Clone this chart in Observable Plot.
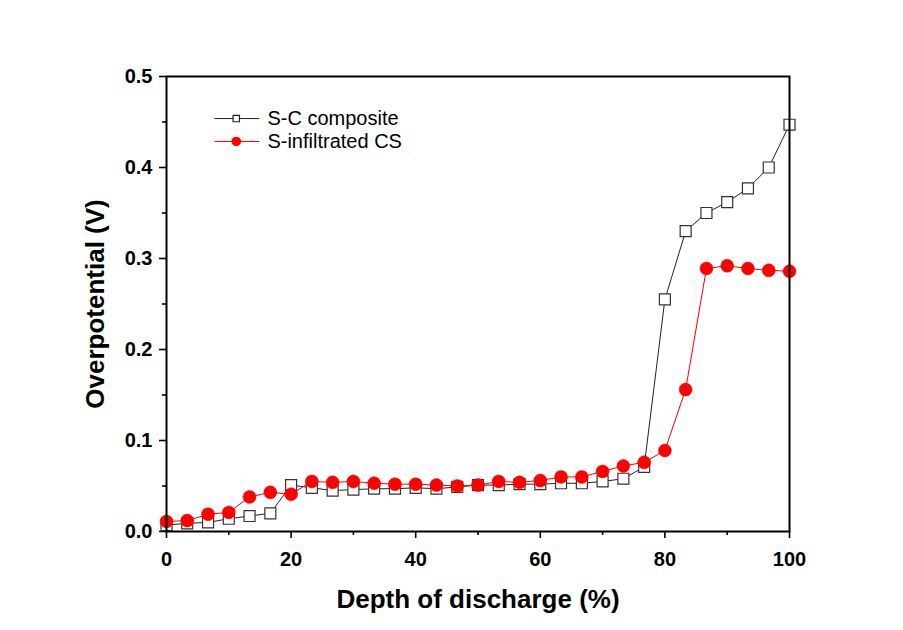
<!DOCTYPE html>
<html><head><meta charset="utf-8">
<script src="https://cdn.jsdelivr.net/npm/d3@7"></script>
<script src="https://cdn.jsdelivr.net/npm/@observablehq/plot@0.6"></script>
<style>body{margin:0;background:#fff;font-family:"Liberation Sans",Arial,sans-serif}</style>
</head><body><div id="chart"></div>
<script>
const depth = [0,3.33,6.67,10,13.33,16.67,20,23.33,26.67,30,33.33,36.67,40,43.33,46.67,50,53.33,56.67,60,63.33,66.67,70,73.33,76.67,80,83.33,86.67,90,93.33,96.67,100];
const scComposite = [0.007,0.009,0.010,0.014,0.017,0.020,0.051,0.048,0.045,0.046,0.047,0.047,0.048,0.047,0.049,0.051,0.051,0.052,0.052,0.053,0.053,0.055,0.058,0.071,0.255,0.330,0.350,0.362,0.377,0.400,0.447];
const sInfiltrated = [0.011,0.012,0.019,0.021,0.038,0.043,0.041,0.055,0.054,0.055,0.053,0.052,0.052,0.051,0.050,0.051,0.055,0.054,0.056,0.060,0.060,0.066,0.072,0.076,0.089,0.156,0.289,0.292,0.289,0.287,0.286];
const seriesNames = ["S-C composite","S-infiltrated CS"];
const xTicks = [0,20,40,60,80,100];
const xMinor = [10,30,50,70,90];
const yTicks = [0,0.1,0.2,0.3,0.4,0.5];
const yMinor = [0.05,0.15,0.25,0.35,0.45];
const xTitle = "Depth of discharge (%)";
const yTitle = "Overpotential (V)";

const sc = depth.map((d,i)=>({x:d,y:scComposite[i]}));
const si = depth.map((d,i)=>({x:d,y:sInfiltrated[i]}));
const legendRows = [
  {name: seriesNames[0], y: 0.4538, x1: 7.7, x2: 14.9, xm: 11.2, xt: 16.2},
  {name: seriesNames[1], y: 0.4286, x1: 7.7, x2: 14.9, xm: 11.2, xt: 16.2}
];

const chart = Plot.plot({
  width: 903, height: 630,
  marginLeft: 166, marginRight: 114, marginTop: 76, marginBottom: 99,
  x: {domain: [0,100]},
  y: {domain: [0,0.5]},
  style: {fontFamily: "'Liberation Sans', Arial, sans-serif", background: "transparent"},
  marks: [
    Plot.axisX({ticks: xTicks, tickSize: 7, tickFormat: d3.format("d"), label: null, fontSize: 20, fontWeight: "bold", strokeWidth: 1.6, tickPadding: 13, color: "#000"}),
    Plot.axisX({ticks: xMinor, tickSize: 4, tickFormat: null, text: null, label: null, strokeWidth: 1.6}),
    Plot.axisY({ticks: yTicks, tickSize: 7, tickFormat: d3.format(".1f"), label: null, fontSize: 20, fontWeight: "bold", strokeWidth: 1.6, tickPadding: 7, color: "#000"}),
    Plot.axisY({ticks: yMinor, tickSize: 4, text: null, label: null, strokeWidth: 1.6}),
    Plot.line(sc, {x: "x", y: "y", stroke: "#222", strokeWidth: 1}),
    Plot.line(si, {x: "x", y: "y", stroke: "#ff0000", strokeWidth: 1}),
    Plot.dot(sc, {x: "x", y: "y", symbol: "square", r: 6.2, fill: "#fff", stroke: "#333", strokeWidth: 1.2}),
    Plot.dot(si, {x: "x", y: "y", symbol: "circle", r: 6.5, fill: "#ff0000", stroke: "#ff0000", strokeWidth: 0.5}),
    Plot.frame({stroke: "#000", strokeWidth: 2}),
    // legend
    Plot.link(legendRows, {x1: "x1", x2: "x2", y1: "y", y2: "y", stroke: (d,i)=> i===0 ? "#222" : "#ff0000", strokeWidth: 1}),
    Plot.dot([legendRows[0]], {x: "xm", y: "y", symbol: "square", r: 3.6, fill: "#fff", stroke: "#222", strokeWidth: 1.2}),
    Plot.dot([legendRows[1]], {x: "xm", y: "y", r: 4.8, fill: "#ff0000"}),
    Plot.text(legendRows, {x: "xt", y: "y", text: "name", textAnchor: "start", fontSize: 20, fill: "#000"}),
    Plot.text([xTitle], {frameAnchor: "bottom", textAnchor: "middle", dy: 76, fontSize: 26, fontWeight: "bold", fill: "#000"}),
    Plot.text([yTitle], {frameAnchor: "left", textAnchor: "middle", dx: -71, rotate: -90, fontSize: 26, fontWeight: "bold", fill: "#000"})
  ]
});
document.getElementById("chart").appendChild(chart);
</script>
</body></html>
